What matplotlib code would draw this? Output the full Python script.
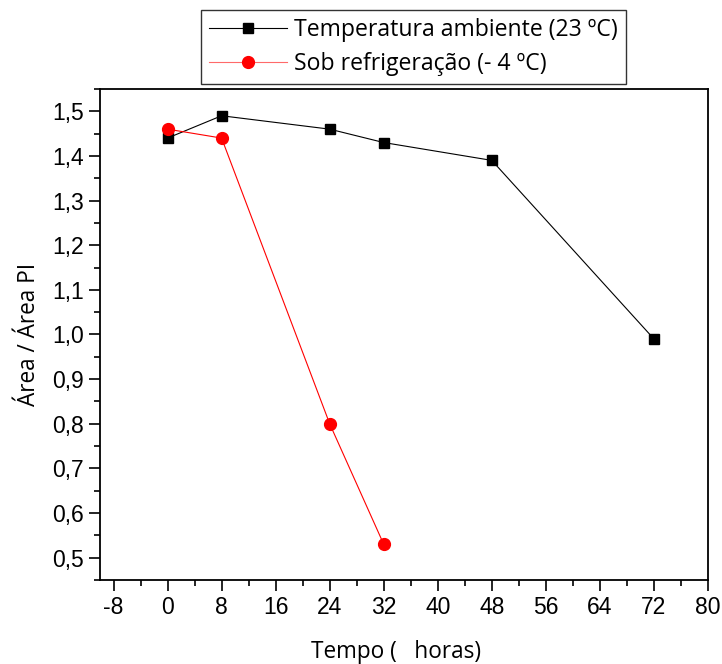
import numpy as np
import matplotlib.pyplot as plt
from matplotlib.ticker import MultipleLocator

plt.rcParams['axes.unicode_minus'] = False

# data
tempo_amb = [0, 8, 24, 32, 48, 72]
area_amb = [1.44, 1.49, 1.46, 1.43, 1.39, 0.99]
tempo_ref = [0, 8, 24, 32]
area_ref = [1.46, 1.44, 0.80, 0.53]

label_amb = "Temperatura ambiente (23 ºC)"
label_ref = "Sob refrigeração (- 4 ºC)"

fig = plt.figure(figsize=(7.22, 6.64), dpi=100)
ax = fig.add_axes([0.1385, 0.1265, 0.8421, 0.7395])

ax.plot(tempo_amb, area_amb, color='black', lw=0.8, marker='s', ms=7,
        label=label_amb)
ax.plot(tempo_ref, area_ref, color='red', lw=0.8, marker='o', ms=8.5,
        label=label_ref)

ax.set_xlim(-10, 80)
ax.set_ylim(0.45, 1.55)
ax.set_xticks(np.arange(-8, 81, 8))
ax.xaxis.set_minor_locator(MultipleLocator(4))
ax.set_yticks(np.arange(0.5, 1.51, 0.1))
ax.yaxis.set_minor_locator(MultipleLocator(0.05))
ax.set_yticklabels(["{:.1f}".format(v).replace('.', ',') for v in np.arange(0.5, 1.51, 0.1)])

ax.tick_params(which='major', direction='out', length=8, width=1.2,
               labelsize=16.5, top=False, right=False)
ax.tick_params(which='minor', direction='out', length=4, width=1.2,
               top=False, right=False)
for lab in ax.get_xticklabels() + ax.get_yticklabels():
    lab.set_family('Liberation Sans')
for s in ax.spines.values():
    s.set_linewidth(1.3)

ax.set_xlabel("Tempo (   horas)", family='Open Sans', fontsize=16.3)
ax.xaxis.set_label_coords(0.487, -0.122)
ax.set_ylabel("Área / Área PI", family='Open Sans', fontsize=16.3, labelpad=8)

leg = fig.legend(loc='upper left', bbox_to_anchor=(0.278, 0.985),
                 bbox_transform=fig.transFigure, borderaxespad=0,
                 prop={'family': 'Open Sans', 'size': 16.6},
                 handlelength=3.4, handletextpad=0.3, labelspacing=0.42,
                 borderpad=0.35, fancybox=False, edgecolor='black')
leg.get_frame().set_linewidth(1.0)
red_handle = leg.get_lines()[1]
red_handle.set_color('#ff6a6a')
red_handle.set_markerfacecolor('red')
red_handle.set_markeredgecolor('red')

fig.savefig("out.png", dpi=100)
